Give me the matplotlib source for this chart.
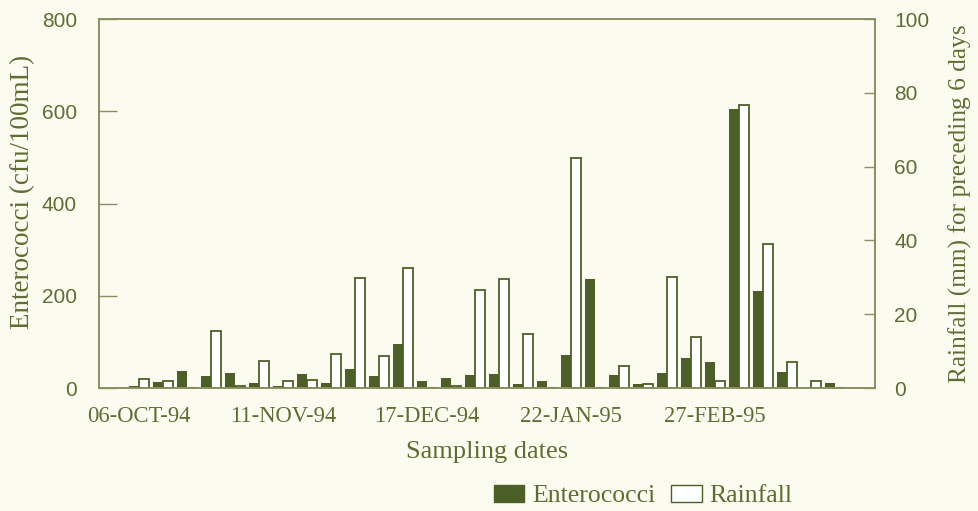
import numpy as np
import matplotlib.pyplot as plt

# sampling every 6 days from 06-OCT-94
enterococci = [4, 13, 37, 26, 33, 11, 4, 30, 11, 42, 26, 96, 15, 22, 28,
               30, 8, 16, 72, 237, 28, 9, 33, 65, 57, 604, 211, 35, 3, 10]
rainfall = [2.4, 2.0, 0, 15.5, 0.5, 7.3, 2.0, 2.2, 9.2, 29.9, 8.7, 32.4, 0, 0.5, 26.6,
            29.6, 14.7, 0, 62.3, 0, 6.0, 1.0, 30.2, 13.7, 1.9, 76.7, 39.1, 7.0, 2.0, 0]
date_labels = ['06-OCT-94', '11-NOV-94', '17-DEC-94', '22-JAN-95', '27-FEB-95']
label_every = 6

bg = '#fbfbf0'
dark = '#4c5f27'
olive = '#5f6d32'
line = '#8a9160'

plt.rcParams['font.family'] = 'Liberation Serif'

fig = plt.figure(figsize=(9.79, 5.11), dpi=100, facecolor=bg)
ax = fig.add_axes([99 / 979, 1 - 388 / 511, (875 - 99) / 979, (388 - 19) / 511])
ax.set_facecolor(bg)
ax2 = ax.twinx()

x = np.arange(len(enterococci))
w = 0.4
ax.bar(x - w / 2, enterococci, w, color=dark, linewidth=0)
ax2.bar(x + w / 2, rainfall, w, facecolor='white', edgecolor=dark, linewidth=1.3)

ax.set_xlim(-1.67, 30.67)
ax.set_ylim(0, 800)
ax2.set_ylim(0, 100)
ax.set_yticks([0, 200, 400, 600, 800])
ax2.set_yticks([0, 20, 40, 60, 80, 100])

ax.set_xticks(x[::label_every])
ax.set_xticklabels(date_labels)
ax.tick_params(axis='x', length=0, pad=13, labelsize=16.3, labelcolor=olive)
ax.tick_params(axis='y', direction='in', length=13, width=1, color=line, pad=16,
               labelsize=15, labelcolor=olive, labelfontfamily='Liberation Sans')
ax2.tick_params(axis='y', direction='in', length=8, width=1, color=line, pad=14,
                labelsize=15, labelcolor=olive, labelfontfamily='Liberation Sans')

for a in (ax, ax2):
    for s in a.spines.values():
        s.set_color(line)
        s.set_linewidth(1.2)

ax.set_ylabel('Enterococci (cfu/100mL)', fontsize=19.5, color=olive)
ax.yaxis.set_label_coords(-0.082, 0.53)
ax2.set_ylabel('Rainfall (mm) for preceding 6 days', fontsize=18.3, color=olive,
               labelpad=14)
ax.set_xlabel('Sampling dates', fontsize=19, color=olive, labelpad=10)

# legend along the bottom right
ent_patch = plt.Rectangle((0, 0), 1, 1, facecolor=dark, edgecolor=dark)
rain_patch = plt.Rectangle((0, 0), 1, 1, facecolor='white', edgecolor=dark, linewidth=1)
leg = fig.legend([ent_patch, rain_patch], ['Enterococci', 'Rainfall'],
                 loc='center', bbox_to_anchor=(643 / 979, 1 - 496 / 511), ncol=2,
                 frameon=False, fontsize=18.5, handlelength=1.2, handleheight=0.7,
                 handletextpad=0.3, columnspacing=0.6)
for t in leg.get_texts():
    t.set_color(olive)

fig.savefig('out.png', dpi=100, facecolor=bg)
